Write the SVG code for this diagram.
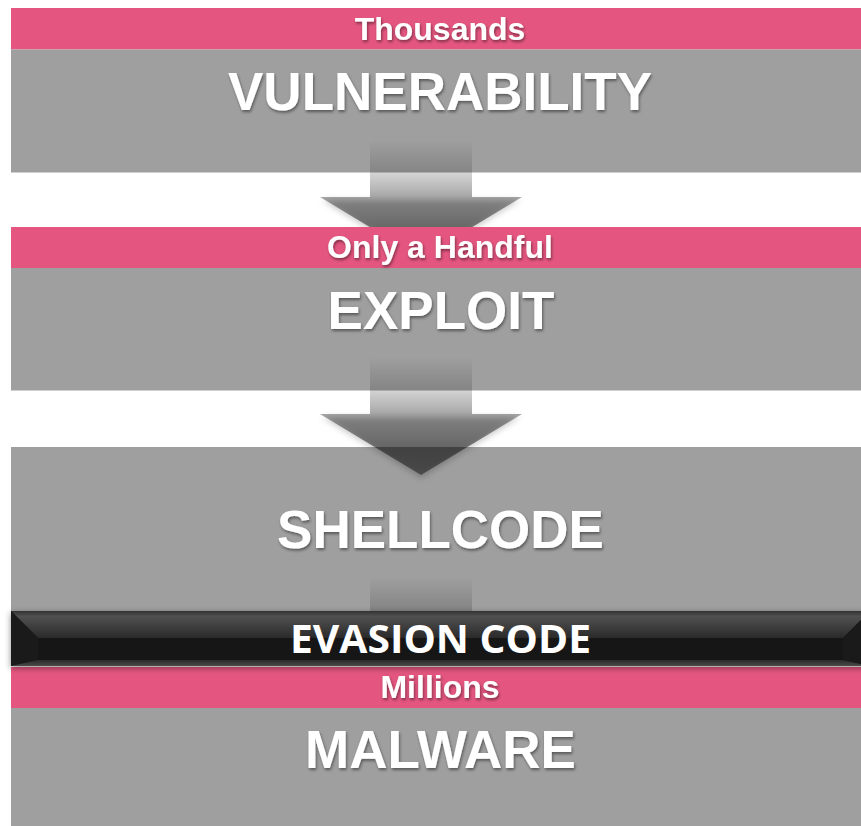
<svg xmlns="http://www.w3.org/2000/svg" width="861" height="826" viewBox="0 0 861 826">
<defs>
<style>
.band{fill:#E4567F}
.box{fill:#9F9F9F}
.small{font-family:"Liberation Sans",Arial,sans-serif;font-weight:bold;font-size:32px;fill:#fff;text-anchor:middle}
.big{font-family:"Liberation Sans",Arial,sans-serif;font-weight:bold;font-size:53px;fill:#fff;text-anchor:middle}
.evasion{font-family:"Open Sans","Noto Sans",sans-serif;font-weight:bold;font-size:39px;fill:#fff;text-anchor:middle}
.arrow{fill:url(#arrowGrad)}
.headShadow{fill:#000;fill-opacity:0.22}
</style>
<linearGradient id="arrowGrad" x1="0" y1="0" x2="0" y2="1">
<stop offset="0" stop-color="#000" stop-opacity="0"/>
<stop offset="0.27" stop-color="#000" stop-opacity="0.16"/>
<stop offset="0.48" stop-color="#000" stop-opacity="0.34"/>
<stop offset="0.75" stop-color="#000" stop-opacity="0.48"/>
<stop offset="1" stop-color="#000" stop-opacity="0.42"/>
</linearGradient>
<linearGradient id="bevelTop" x1="0" y1="0" x2="0" y2="1">
<stop offset="0" stop-color="#323232"/>
<stop offset="0.2" stop-color="#505050"/>
<stop offset="1" stop-color="#2a2a2a"/>
</linearGradient>
<linearGradient id="bevelBottom" x1="0" y1="0" x2="0" y2="1">
<stop offset="0" stop-color="#2a2a2a"/>
<stop offset="1" stop-color="#4a4a4a"/>
</linearGradient>
<filter id="textShadow" x="-10%" y="-30%" width="120%" height="160%">
<feDropShadow dx="1" dy="2" stdDeviation="1.5" flood-color="#000" flood-opacity="0.45"/>
</filter>
<filter id="blur3" x="-20%" y="-20%" width="140%" height="160%">
<feGaussianBlur stdDeviation="3"/>
</filter>
<filter id="barShadow" x="-5%" y="-30%" width="110%" height="160%">
<feDropShadow dx="0" dy="2" stdDeviation="3" flood-color="#000" flood-opacity="0.45"/>
</filter>
<clipPath id="clip1"><rect x="0" y="0" width="861" height="227"/></clipPath>
<clipPath id="clip3"><rect x="0" y="500" width="861" height="111"/></clipPath>
</defs>
<rect width="861" height="826" fill="#fff"/>

<g id="vulnerability">
<rect class="band" x="11" y="8" width="850" height="41.5"/>
<rect class="box" x="11" y="49.5" width="850" height="123"/>
<text class="small" x="440" y="39.5" filter="url(#textShadow)">Thousands</text>
<text class="big" x="440" y="110" filter="url(#textShadow)">VULNERABILITY</text>
</g>

<g id="exploit">
<rect class="band" x="11" y="227" width="850" height="41"/>
<rect class="box" x="11" y="268" width="850" height="122.5"/>
<text class="small" x="440" y="257.5" filter="url(#textShadow)">Only a Handful</text>
<text class="big" x="441" y="329" filter="url(#textShadow)">EXPLOIT</text>
</g>

<g id="shellcode">
<rect class="box" x="11" y="447" width="850" height="164"/>
<text class="big" x="440.5" y="548" filter="url(#textShadow)">SHELLCODE</text>
</g>

<g id="malware">
<rect class="band" x="11" y="667" width="850" height="41"/>
<rect class="box" x="11" y="708" width="850" height="118"/>
<text class="small" x="440" y="698" filter="url(#textShadow)">Millions</text>
<text class="big" x="440.5" y="768" filter="url(#textShadow)">MALWARE</text>
</g>

<g id="connectors">
<g clip-path="url(#clip1)">
<polygon class="headShadow" filter="url(#blur3)" points="322,200 520,200 421,261"/>
<polygon class="arrow" points="370,140 472,140 472,197 522,197 421,258 320,197 370,197"/>
</g>
<polygon class="headShadow" filter="url(#blur3)" points="322,417 520,417 421,478"/>
<polygon class="arrow" points="370,357 472,357 472,414 522,414 421,475 320,414 370,414"/>
<g clip-path="url(#clip3)">
<polygon class="arrow" points="370,577 472,577 472,634 522,634 421,695 320,634 370,634"/>
</g>
</g>

<g id="evasion-code">
<g filter="url(#barShadow)">
<rect x="11" y="611" width="859" height="55" fill="#141414"/>
</g>
<polygon points="11,611 870,611 843,638 38,638" fill="url(#bevelTop)"/>
<polygon points="11,611 38,638 38,660 11,666" fill="#1a1a1a"/>
<polygon points="11,666 38,660 843,660 870,666" fill="url(#bevelBottom)"/>
<polygon points="870,611 843,638 843,660 870,666" fill="#1a1a1a"/>
<text class="evasion" x="440.5" y="653" textLength="301" lengthAdjust="spacingAndGlyphs">EVASION CODE</text>
</g>
</svg>
